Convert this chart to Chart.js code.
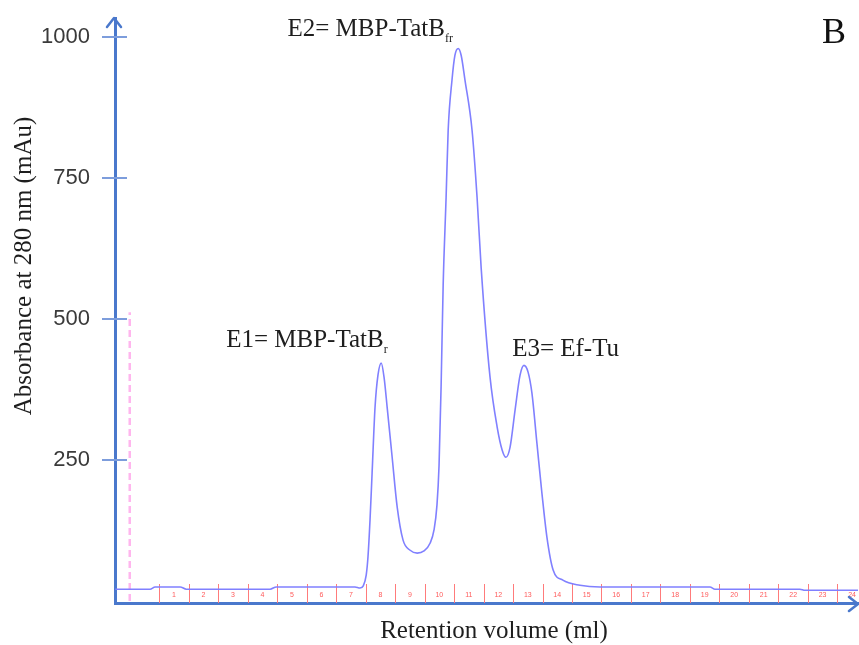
<!DOCTYPE html>
<html>
<head>
<meta charset="utf-8">
<script src="https://cdn.jsdelivr.net/npm/chart.js@4.4.1/dist/chart.umd.min.js"></script>
<style>
  html, body { margin: 0; padding: 0; background: #fff; }
</style>
</head>
<body>
<canvas id="chromatogram" width="859" height="645"></canvas>
<script>
// elution profile (x in fraction units, y in mAu)
const volume = [
  -0.49, 0.69, 0.86, 1.71, 1.92, 4.76, 4.97, 7.64, 7.81, 7.92,
  8.02, 8.08, 8.15, 8.22, 8.32, 8.42, 8.53, 8.63, 8.73, 8.90,
  9.07, 9.27, 9.51, 9.75, 9.98, 10.19, 10.32, 10.42, 10.49, 10.56,
  10.63, 10.73, 10.80, 10.93, 11.03, 11.14, 11.24, 11.37, 11.61, 11.78,
  11.92, 12.22, 12.46, 12.63, 12.76, 12.90, 13.07, 13.24, 13.37,
  13.51, 13.64, 13.81, 13.98, 14.15, 14.36, 14.69, 15.27, 15.95, 19.68,
  19.85, 22.73, 22.90, 24.70
];
const absorbance = [
  21, 21, 25, 25, 21, 21, 25, 25, 23, 27,
  46, 78, 144, 227, 344, 401, 422, 395, 344, 255,
  167, 108, 90, 85, 89, 103, 126, 170, 240, 380,
  560, 716, 835, 924, 968, 980, 968, 924, 835, 716,
  590, 397, 309, 268, 255, 273, 339, 401, 418,
  406, 369, 280, 191, 113, 55, 37, 28, 25, 25,
  21, 21, 19, 19
];

// injection marker (pink dashed)
const injectionVolume = [0, 0];
const injectionMark = [0, 512];

const fractionTicks = [1, 2, 3, 4, 5, 6, 7, 8, 9, 10, 11, 12, 13, 14, 15, 16, 17, 18, 19, 20, 21, 22, 23, 24];
const fractionLabels = ['1', '2', '3', '4', '5', '6', '7', '8', '9', '10', '11', '12',
  '13', '14', '15', '16', '17', '18', '19', '20', '21', '22', '23', '24'];
const absorbanceTicks = [250, 500, 750, 1000];

const peakNames = ['E1= MBP-TatB', 'E2= MBP-TatB', 'E3= Ef-Tu'];
const peakSubscripts = ['r', 'fr', ''];
const panelLetter = 'B';
const xTitle = 'Retention volume (ml)';
const yTitle = 'Absorbance at 280 nm (mAu)';

const AXIS_BLUE = '#4a78cc';
const SERIF = '"Liberation Serif", "Times New Roman", serif';

const toPoints = (xs, ys) => xs.map((x, i) => ({ x, y: ys[i] }));

const decorations = {
  id: 'decorations',
  beforeDatasetsDraw(chart) {
    const { ctx, chartArea, scales: { x } } = chart;
    ctx.save();
    // red fraction ticks along the bottom
    ctx.strokeStyle = '#ff7b7b';
    ctx.lineWidth = 1;
    fractionTicks.forEach((f) => {
      const px = Math.round(x.getPixelForValue(f)) + 0.5;
      ctx.beginPath();
      ctx.moveTo(px, chartArea.bottom - 19);
      ctx.lineTo(px, chartArea.bottom);
      ctx.stroke();
    });
    ctx.fillStyle = '#ff5a5a';
    ctx.font = '7px "Liberation Sans", Arial, sans-serif';
    ctx.textAlign = 'center';
    ctx.textBaseline = 'middle';
    fractionTicks.forEach((f, i) => {
      ctx.fillText(fractionLabels[i], x.getPixelForValue(f + 0.5), chartArea.bottom - 8);
    });
    ctx.restore();
  },
  afterDraw(chart) {
    const { ctx, chartArea, scales: { x, y } } = chart;
    const left = chartArea.left - 1;
    const bottom = chartArea.bottom + 1;
    ctx.save();

    // y tick marks crossing the axis
    ctx.strokeStyle = '#7d9ddc';
    ctx.lineWidth = 2;
    absorbanceTicks.forEach((v) => {
      const py = Math.round(y.getPixelForValue(v));
      ctx.beginPath();
      ctx.moveTo(left - 12, py);
      ctx.lineTo(left + 13, py);
      ctx.stroke();
    });

    // arrow heads
    ctx.strokeStyle = AXIS_BLUE;
    ctx.lineWidth = 2.5;
    ctx.lineCap = 'round';
    ctx.lineJoin = 'round';
    ctx.beginPath();
    ctx.moveTo(left - 7, chartArea.top + 9);
    ctx.lineTo(left, chartArea.top);
    ctx.lineTo(left + 7, chartArea.top + 9);
    ctx.stroke();
    ctx.beginPath();
    ctx.moveTo(chartArea.right - 9, bottom - 7);
    ctx.lineTo(chartArea.right, bottom);
    ctx.lineTo(chartArea.right - 9, bottom + 7);
    ctx.stroke();

    // peak annotations
    ctx.fillStyle = '#1e1e1e';
    ctx.textAlign = 'left';
    ctx.textBaseline = 'alphabetic';
    const anchors = [[3.27, 451], [5.35, 1002], [12.97, 434]];
    peakNames.forEach((name, i) => {
      const px = x.getPixelForValue(anchors[i][0]);
      const py = y.getPixelForValue(anchors[i][1]);
      ctx.font = '25px ' + SERIF;
      ctx.fillText(name, px, py);
      if (peakSubscripts[i]) {
        const w = ctx.measureText(name).width;
        ctx.font = '12px ' + SERIF;
        ctx.fillText(peakSubscripts[i], px + w, py + 6);
      }
    });

    // axis titles
    ctx.font = '25px ' + SERIF;
    ctx.textAlign = 'center';
    ctx.textBaseline = 'middle';
    ctx.fillText(xTitle, 494, 631);
    ctx.save();
    ctx.translate(24, 266);
    ctx.rotate(-Math.PI / 2);
    ctx.fillText(yTitle, 0, 0);
    ctx.restore();

    // panel letter
    ctx.font = '36px ' + SERIF;
    ctx.textAlign = 'left';
    ctx.textBaseline = 'alphabetic';
    ctx.fillStyle = '#111';
    ctx.fillText(panelLetter, 822, 43);

    ctx.restore();
  }
};

new Chart(document.getElementById('chromatogram'), {
  type: 'line',
  data: {
    datasets: [
      {
        label: 'A280',
        data: toPoints(volume, absorbance),
        borderColor: '#8080ff',
        borderWidth: 1.6,
        pointRadius: 0,
        fill: false,
        cubicInterpolationMode: 'monotone',
      },
      {
        label: 'Injection',
        data: toPoints(injectionVolume, injectionMark),
        borderColor: '#ffb6ee',
        borderWidth: 2.5,
        borderDash: [7, 4],
        pointRadius: 0,
        fill: false,
      },
    ],
  },
  options: {
    responsive: false,
    animation: false,
    devicePixelRatio: 1,
    layout: { padding: { top: 18, right: 1, left: 0, bottom: 0 } },
    plugins: {
      legend: { display: false },
      tooltip: { enabled: false },
    },
    scales: {
      x: {
        type: 'linear',
        min: -0.5,
        max: 24.7,
        grid: { display: false },
        ticks: { display: false },
        border: { color: AXIS_BLUE, width: 3 },
        afterFit: (scale) => {
          scale.height = 42;
          scale.paddingLeft = 0;
          scale.paddingRight = 0;
        },
      },
      y: {
        min: -3.5,
        max: 1034,
        grid: { display: false },
        border: { color: AXIS_BLUE, width: 3 },
        afterBuildTicks: (scale) => {
          scale.ticks = absorbanceTicks.map((v) => ({ value: v }));
        },
        ticks: {
          padding: 17,
          color: '#3a3a3a',
          font: { family: '"Liberation Sans", Arial, sans-serif', size: 22 },
          callback: (v) => String(v),
        },
        afterFit: (scale) => {
          scale.width = 115;
          scale.paddingTop = 0;
          scale.paddingBottom = 0;
        },
      },
    },
  },
  plugins: [decorations],
});
</script>
</body>
</html>
